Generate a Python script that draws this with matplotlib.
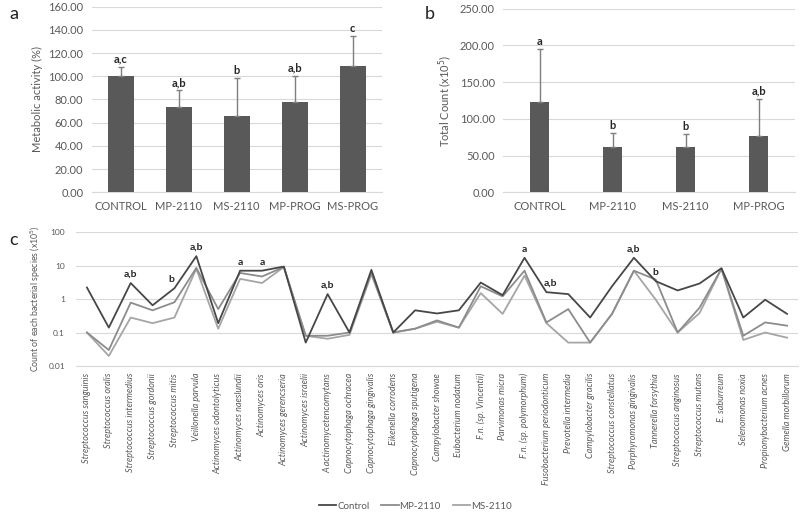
import matplotlib
matplotlib.use("Agg")
import matplotlib.pyplot as plt
import numpy as np

plt.rcParams['font.family'] = ['Lato', 'DejaVu Sans']

# panel a - metabolic activity
groups_a = ['CONTROL', 'MP-2110', 'MS-2110', 'MP-PROG', 'MS-PROG']
activity = [100.0, 73.3, 66.0, 77.9, 109.2]
activity_err = [8.3, 14.7, 32.3, 22.7, 25.6]
letters_a = ['a,c', 'a,b', 'b', 'a,b', 'c']

# panel b - total count
groups_b = ['CONTROL', 'MP-2110', 'MS-2110', 'MP-PROG']
total_count = [122.5, 61.7, 61.7, 77.1]
total_err = [73.0, 18.6, 17.3, 50.4]
letters_b = ['a', 'b', 'b', 'a,b']

# panel c - bacterial species
species = ['Streptococcus sanguinis', 'Streptococcus oralis', 'Streptococcus intermedius',
           'Streptococcus gordonii', 'Streptococcus mitis', 'Veillonella parvula',
           'Actinomyces odontolyticus', 'Actinomyces naeslundii', 'Actinomyces oris',
           'Actinomyces gerencseria', 'Actinomyces israelii', 'A actinomycetencomytans',
           'Capnocytophaga ochracea', 'Capnocytophaga gingivalis', 'Eikenella corrodens',
           'Capnocytophaga sputigena', 'Campylobacter showae', 'Eubacterium nodatum',
           'F.n. (sp. Vincentii)', 'Parvimonas micra', 'F.n. (sp. polymorphum)',
           'Fusobacterium periodonticum', 'Prevotella intermedia', 'Campylobacter gracilis',
           'Streptococcus constellatus', 'Porphyromonas gingivalis', 'Tannerella forsythia',
           'Streptococcus anginosus', 'Streptococcus mutans', 'E. saburreum',
           'Selenomonas noxia', 'Propionybacterium acnes', 'Gemella morbillorum']
control = [2.2, 0.14, 3.0, 0.65, 2.1, 19, 0.19, 7.0, 7.0, 9.3, 0.05, 1.4, 0.1, 7.4, 0.1,
           0.46, 0.37, 0.46, 3.1, 1.3, 17, 1.6, 1.4, 0.28, 2.4, 17, 3.4, 1.8, 2.9, 8.3,
           0.28, 0.95, 0.36]
mp2110 = [0.1, 0.03, 0.78, 0.46, 0.8, 8.5, 0.5, 6.0, 4.7, 9.0, 0.08, 0.08, 0.1, 6.0, 0.1,
          0.13, 0.23, 0.14, 2.4, 1.2, 7.0, 0.2, 0.5, 0.05, 0.36, 7.0, 3.8, 0.1, 0.55, 8.0,
          0.08, 0.2, 0.16]
ms2110 = [0.1, 0.02, 0.28, 0.19, 0.28, 8.0, 0.13, 4.0, 3.0, 9.0, 0.08, 0.065, 0.085, 5.5, 0.1,
          0.13, 0.21, 0.14, 1.5, 0.36, 5.0, 0.19, 0.05, 0.05, 0.36, 7.0, 0.95, 0.1, 0.38, 8.0,
          0.06, 0.1, 0.07]
# significance letters: (species index, text)
letters_c = [(2, 'a,b'), (4, 'b'), (5, 'a,b'), (7, 'a'), (8, 'a'), (11, 'a,b'),
             (20, 'a'), (21, 'a,b'), (25, 'a,b'), (26, 'b')]

bar_col = '#595959'
err_col = '#7f7f7f'
grid_col = '#d9d9d9'
txt_col = '#595959'

fig = plt.figure(figsize=(8, 5.15), dpi=100)


def bar_panel(ax, groups, vals, errs, letters, ymax, step, width, ylabel):
    x = np.arange(len(groups))
    ax.bar(x, vals, width=width, color=bar_col, zorder=3)
    ax.errorbar(x, vals, yerr=[np.zeros(len(vals)), errs], fmt='none', ecolor=err_col,
                elinewidth=1, capsize=2.5, capthick=1, zorder=4)
    for xi, v, e, t in zip(x, vals, errs, letters):
        ax.annotate(t, (xi, v + e), xytext=(0, 1.5), textcoords='offset points',
                    ha='center', va='bottom', fontsize=8, fontweight='bold', color='#262626')
    ax.set_xlim(-0.5, len(groups) - 0.5)
    ax.set_ylim(0, ymax)
    ax.set_yticks(np.arange(0, ymax + 1, step))
    ax.set_yticklabels(['%.2f' % t for t in np.arange(0, ymax + 1, step)])
    ax.set_xticks(x)
    ax.set_xticklabels(groups)
    ax.yaxis.grid(True, color=grid_col, lw=0.8, zorder=0)
    for s in ['top', 'right', 'left']:
        ax.spines[s].set_visible(False)
    ax.spines['bottom'].set_color(grid_col)
    ax.tick_params(length=0, labelsize=8, colors=txt_col, pad=6)
    ax.set_ylabel(ylabel, fontsize=8, color=txt_col)


ax_a = fig.add_axes([0.1145, 0.6266, 0.3625, 0.3604])
bar_panel(ax_a, groups_a, activity, activity_err, letters_a, 160, 20, 0.45,
          'Metabolic activity (%)')
ax_b = fig.add_axes([0.629, 0.6266, 0.3650, 0.3565])
bar_panel(ax_b, groups_b, total_count, total_err, letters_b, 250, 50, 0.26,
          'Total Count (x10$^5$)')

fig.text(0.012, 0.972, 'a', fontsize=13, va='center', color='#222222')
fig.text(0.531, 0.972, 'b', fontsize=13, va='center', color='#222222')
fig.text(0.012, 0.534, 'c', fontsize=13, va='center', color='#222222')

# panel c
ax_c = fig.add_axes([0.095, 0.2893, 0.9025, 0.2602])
xc = np.arange(len(species))
ax_c.plot(xc, control, color='#474747', lw=1.3, label='Control', zorder=4)
ax_c.plot(xc, mp2110, color='#8c8c8c', lw=1.3, label='MP-2110', zorder=3)
ax_c.plot(xc, ms2110, color='#a5a5a5', lw=1.3, label='MS-2110', zorder=2)
for i, t in letters_c:
    dx = 3 if i == 21 else (-2 if i == 4 else 0)
    ax_c.annotate(t, (i, control[i]), xytext=(dx, 3), textcoords='offset points',
                  ha='center', va='bottom', fontsize=7.5, fontweight='bold', color='#262626')
ax_c.set_yscale('log')
ax_c.set_ylim(0.01, 100)
ax_c.set_yticks([0.01, 0.1, 1, 10, 100])
ax_c.set_yticklabels(['0.01', '0.1', '1', '10', '100'])
ax_c.minorticks_off()
ax_c.set_xlim(-0.5, len(species) - 0.5)
ax_c.set_xticks(xc)
ax_c.set_xticklabels(species, rotation=90, style='italic', fontsize=6.5, color=txt_col)
ax_c.yaxis.grid(True, color=grid_col, lw=0.8, zorder=0)
for s in ['top', 'right', 'left']:
    ax_c.spines[s].set_visible(False)
ax_c.spines['bottom'].set_color(grid_col)
ax_c.tick_params(axis='y', length=0, labelsize=6, colors=txt_col, pad=8)
ax_c.tick_params(axis='x', length=0, pad=5)
ax_c.set_ylabel('Count of each bacterial species (x10$^5$)', fontsize=6.3, color=txt_col)

ax_c.legend(loc='center', bbox_to_anchor=(0.519, 0.017), bbox_transform=fig.transFigure,
            ncol=3, frameon=False, fontsize=7, handlelength=1.8, handletextpad=0.1,
            columnspacing=1.2, labelcolor=txt_col)

fig.savefig('out.png', dpi=100)
